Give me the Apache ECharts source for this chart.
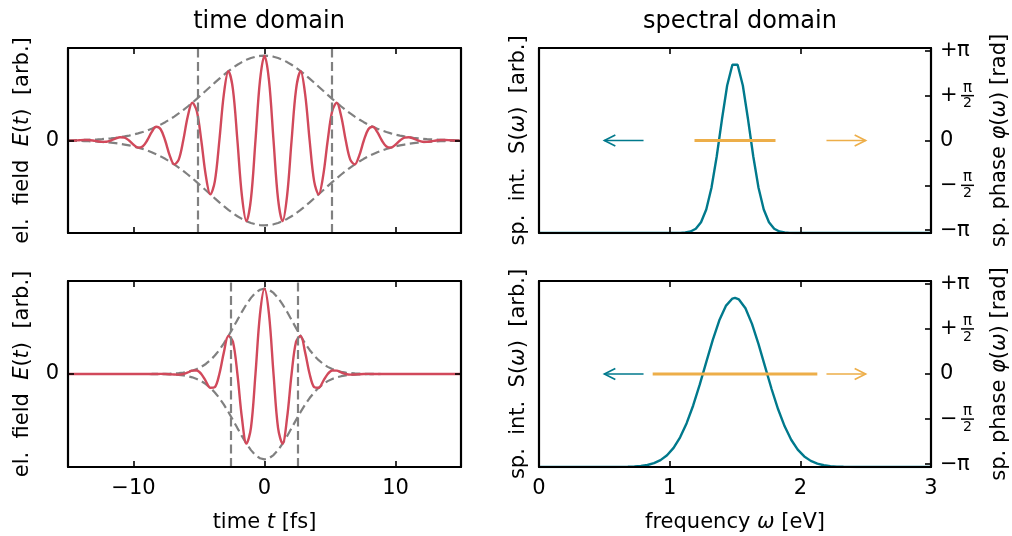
<!DOCTYPE html>
<html>
<head>
<meta charset="utf-8">
<script src="https://cdn.jsdelivr.net/npm/echarts@6/dist/echarts.min.js"></script>
<style>
  html, body { margin: 0; padding: 0; background: #fff; }
  #chart { width: 1012px; height: 536px; }
</style>
</head>
<body>
<div id="chart"></div>
<script>
// ---- time domain samples (fs) ----
const timeFs = [-15, -14.82, -14.475, -14.13, -13.786, -13.441, -13.096, -12.752, -12.407, -12.062, -11.718, -11.373, -11.028, -10.684, -10.339, -9.995, -9.65, -9.305, -8.961, -8.616, -8.271, -7.927, -7.582, -7.237, -6.893, -6.548, -6.204, -5.859, -5.514, -5.17, -4.825, -4.48, -4.136, -3.791, -3.446, -3.102, -2.757, -2.412, -2.068, -1.723, -1.379, -1.034, -0.689, -0.345, 0,
  0.345, 0.689, 1.034, 1.379, 1.723, 2.068, 2.412, 2.757, 3.102, 3.446, 3.791, 4.136, 4.48, 4.825, 5.17, 5.514, 5.859, 6.204, 6.548, 6.893, 7.237, 7.582, 7.927, 8.271, 8.616, 8.961, 9.305, 9.65, 9.995, 10.339, 10.684, 11.028, 11.373, 11.718, 12.062, 12.407, 12.752, 13.096, 13.441, 13.786, 14.13, 14.475, 14.82, 15];

// long pulse: field and its envelope
const fieldLong = [-0.0023, -0.002, 0, 0.0035, 0.0063, 0.0057, 0, -0.0093, -0.0165, -0.0146, 0, 0.0225, 0.0391, 0.0338, 0, -0.0494, -0.0836, -0.0704, 0, 0.0978, 0.1615, 0.1325, 0, -0.1751, -0.2819, -0.2255, 0, 0.2833, 0.4447, 0.3469, 0, -0.4141, -0.634, -0.4821, 0, 0.5472, 0.8166, 0.6055, 0, -0.6533, -0.9506, -0.6872, 0, 0.7049, 1,
  0.7049, 0, -0.6872, -0.9506, -0.6533, 0, 0.6055, 0.8166, 0.5472, 0, -0.4821, -0.634, -0.4141, 0, 0.3469, 0.4447, 0.2833, 0, -0.2255, -0.2819, -0.1751, 0, 0.1325, 0.1615, 0.0978, 0, -0.0704, -0.0836, -0.0494, 0, 0.0338, 0.0391, 0.0225, 0, -0.0146, -0.0165, -0.0093, 0, 0.0057, 0.0063, 0.0035, 0, -0.002, -0.0023];
const envLongUpper = [0.0025, 0.0029, 0.0038, 0.0049, 0.0063, 0.0081, 0.0104, 0.0131, 0.0165, 0.0207, 0.0258, 0.0318, 0.0391, 0.0477, 0.0579, 0.0698, 0.0836, 0.0995, 0.1177, 0.1383, 0.1615, 0.1874, 0.2161, 0.2476, 0.2819, 0.319, 0.3586, 0.4006, 0.4447, 0.4906, 0.5377, 0.5857, 0.634, 0.6818, 0.7287, 0.7738, 0.8166, 0.8563, 0.8923, 0.9239, 0.9506, 0.9719, 0.9874, 0.9968, 1,
  0.9968, 0.9874, 0.9719, 0.9506, 0.9239, 0.8923, 0.8563, 0.8166, 0.7738, 0.7287, 0.6818, 0.634, 0.5857, 0.5377, 0.4906, 0.4447, 0.4006, 0.3586, 0.319, 0.2819, 0.2476, 0.2161, 0.1874, 0.1615, 0.1383, 0.1177, 0.0995, 0.0836, 0.0698, 0.0579, 0.0477, 0.0391, 0.0318, 0.0258, 0.0207, 0.0165, 0.0131, 0.0104, 0.0081, 0.0063, 0.0049, 0.0038, 0.0029, 0.0025];
const envLongLower = [-0.0025, -0.0029, -0.0038, -0.0049, -0.0063, -0.0081, -0.0104, -0.0131, -0.0165, -0.0207, -0.0258, -0.0318, -0.0391, -0.0477, -0.0579, -0.0698, -0.0836, -0.0995, -0.1177, -0.1383, -0.1615, -0.1874, -0.2161, -0.2476, -0.2819, -0.319, -0.3586, -0.4006, -0.4447, -0.4906, -0.5377, -0.5857, -0.634, -0.6818, -0.7287, -0.7738, -0.8166, -0.8563, -0.8923, -0.9239, -0.9506, -0.9719, -0.9874, -0.9968, -1,
  -0.9968, -0.9874, -0.9719, -0.9506, -0.9239, -0.8923, -0.8563, -0.8166, -0.7738, -0.7287, -0.6818, -0.634, -0.5857, -0.5377, -0.4906, -0.4447, -0.4006, -0.3586, -0.319, -0.2819, -0.2476, -0.2161, -0.1874, -0.1615, -0.1383, -0.1177, -0.0995, -0.0836, -0.0698, -0.0579, -0.0477, -0.0391, -0.0318, -0.0258, -0.0207, -0.0165, -0.0131, -0.0104, -0.0081, -0.0063, -0.0049, -0.0038, -0.0029, -0.0025];

// short pulse: field and its envelope
const fieldShort = [0, 0, 0, 0, 0, 0, 0, 0, 0, 0, 0, 0, 0, 0, 0, 0, 0, 0, 0, 0, 0.0007, 0.0009, 0, -0.0027, -0.0063, -0.0073, 0, 0.0182, 0.0391, 0.041, 0, -0.0832, -0.1615, -0.1528, 0, 0.2536, 0.4447, 0.3802, 0, -0.5152, -0.8166, -0.631, 0, 0.6982, 1,
  0.6982, 0, -0.631, -0.8166, -0.5152, 0, 0.3802, 0.4447, 0.2536, 0, -0.1528, -0.1615, -0.0832, 0, 0.041, 0.0391, 0.0182, 0, -0.0073, -0.0063, -0.0027, 0, 0.0009, 0.0007, 0, 0, 0, 0, 0, 0, 0, 0, 0, 0, 0, 0, 0, 0, 0, 0, 0, 0, 0, 0];
const envShortUpper = [0, 0, 0, 0, 0, 0, 0, 0, 0, 0, 0, 0, 0, 0, 0, 0, 0, 0.0001, 0.0002, 0.0004, 0.0007, 0.0012, 0.0022, 0.0038, 0.0063, 0.0104, 0.0165, 0.0258, 0.0391, 0.0579, 0.0836, 0.1177, 0.1615, 0.2161, 0.2819, 0.3586, 0.4447, 0.5377, 0.634, 0.7287, 0.8166, 0.8923, 0.9506, 0.9874, 1,
  0.9874, 0.9506, 0.8923, 0.8166, 0.7287, 0.634, 0.5377, 0.4447, 0.3586, 0.2819, 0.2161, 0.1615, 0.1177, 0.0836, 0.0579, 0.0391, 0.0258, 0.0165, 0.0104, 0.0063, 0.0038, 0.0022, 0.0012, 0.0007, 0.0004, 0.0002, 0.0001, 0, 0, 0, 0, 0, 0, 0, 0, 0, 0, 0, 0, 0, 0, 0, 0, 0];
const envShortLower = [0, 0, 0, 0, 0, 0, 0, 0, 0, 0, 0, 0, 0, 0, 0, 0, 0, -0.0001, -0.0002, -0.0004, -0.0007, -0.0012, -0.0022, -0.0038, -0.0063, -0.0104, -0.0165, -0.0258, -0.0391, -0.0579, -0.0836, -0.1177, -0.1615, -0.2161, -0.2819, -0.3586, -0.4447, -0.5377, -0.634, -0.7287, -0.8166, -0.8923, -0.9506, -0.9874, -1,
  -0.9874, -0.9506, -0.8923, -0.8166, -0.7287, -0.634, -0.5377, -0.4447, -0.3586, -0.2819, -0.2161, -0.1615, -0.1177, -0.0836, -0.0579, -0.0391, -0.0258, -0.0165, -0.0104, -0.0063, -0.0038, -0.0022, -0.0012, -0.0007, -0.0004, -0.0002, -0.0001, 0, 0, 0, 0, 0, 0, 0, 0, 0, 0, 0, 0, 0, 0, 0, 0, 0];

// half-maximum markers of the envelopes (fs)
const halfMaxLong = [-5.1, 5.1];
const halfMaxShort = [-2.55, 2.55];

// ---- spectral domain (eV) ----
const freqNarrow = [0, 1.0, 1.04, 1.08, 1.12, 1.16, 1.2, 1.24, 1.28, 1.32, 1.36, 1.4, 1.44, 1.48, 1.52, 1.56, 1.6, 1.64, 1.68, 1.72, 1.76, 1.8, 1.84, 1.88, 1.92, 1.96, 2.0, 3.0];
const specNarrow = [0, 0, 0.0002, 0.0007, 0.0027, 0.0088, 0.0253, 0.0635, 0.1396, 0.2691, 0.455, 0.6746, 0.877, 1, 1, 0.877, 0.6746, 0.455, 0.2691, 0.1396, 0.0635, 0.0253, 0.0088, 0.0027, 0.0007, 0.0002, 0, 0];
const freqWide = [0, 0.48, 0.53, 0.58, 0.63, 0.68, 0.73, 0.78, 0.83, 0.88, 0.93, 0.98, 1.03, 1.08, 1.13, 1.18, 1.23, 1.28, 1.33, 1.38, 1.43, 1.48, 1.5, 1.53, 1.58, 1.63, 1.68, 1.73, 1.78, 1.83, 1.88, 1.93, 1.98, 2.03, 2.08, 2.13, 2.18, 2.23, 2.28, 2.33, 2.38, 2.43, 2.48, 3];
const specWide = [0, 0, 0.0001, 0.0002, 0.0006, 0.0013, 0.0029, 0.006, 0.0119, 0.0225, 0.0405, 0.0693, 0.113, 0.1753, 0.259, 0.3639, 0.487, 0.6202, 0.7519, 0.8675, 0.9528, 0.9961, 1, 0.9911, 0.9388, 0.8464, 0.7263, 0.5933, 0.4613, 0.3414, 0.2405, 0.1612, 0.1029, 0.0625, 0.0362, 0.0199, 0.0104, 0.0052, 0.0025, 0.0011, 0.0005, 0.0002, 0.0001, 0];

// flat spectral phase over the pulse bandwidth (rad)
const phaseFreqNarrow = [1.19, 1.81];
const phaseNarrow = [0, 0];
const phaseFreqWide = [0.87, 2.13];
const phaseWide = [0, 0];

// axis-pointer arrows: intensity to the left, phase to the right
const arrowTails = [0.8, 2.2];
const arrowTips = [0.5, 2.5];
const arrowLevel = [0, 0];

// ticks
const timeTicks = [-10, 0, 10];
const fieldTicks = [0];
const freqTicks = [0, 1, 2, 3];
const phaseTicks = [-Math.PI, -Math.PI / 2, 0, Math.PI / 2, Math.PI];
const phaseTickLabels = ['−π', '−π/2', '0', '+π/2', '+π'];

// ---- styling ----
const FONT = 'DejaVu Sans';
const FS = 21;
const RED = '#d1495b', TEAL = '#00798c', ORANGE = '#edae49', GRAY = '#808080';
const FRAME = { color: '#000', width: 2.2 };
const TICK = { show: true, inside: true, length: 6, lineStyle: { color: '#000', width: 1.6 } };

const nameStyle = {
  fontFamily: FONT, fontSize: FS, color: '#000',
  rich: {
    t: { fontFamily: FONT, fontSize: FS, color: '#000' },
    i: { fontFamily: FONT, fontSize: FS, fontStyle: 'italic', color: '#000' }
  }
};
const labelStyle = { fontFamily: FONT, fontSize: FS, color: '#000' };

const pairs = (xs, ys) => xs.map((x, i) => [x, ys[i]]);
const minusSign = v => String(v).replace('-', '\u2212');

function phaseRich(lbl) {
  if (lbl === '0') return '{z|0}';
  const sign = lbl[0];
  if (lbl.endsWith('/2')) {
    return '{pad| }{num|π}\n{sg2|' + sign + '}{bar| }\n{pad| }{den|2}';
  }
  return '{sg|' + sign + '}{pi|π}';
}

const grids = [
  { left: 68, top: 48, width: 393, height: 185 },
  { left: 68, top: 281, width: 393, height: 186 },
  { left: 539, top: 48, width: 392, height: 185 },
  { left: 539, top: 281, width: 392, height: 186 }
];

function xAxes(gi, min, max, ticks, showLabels, name) {
  const common = {
    gridIndex: gi, type: 'value', min, max, z: 10,
    axisLine: { show: true, onZero: false, lineStyle: FRAME },
    splitLine: { show: false },
    axisTick: Object.assign({ customValues: ticks }, TICK)
  };
  const bottom = Object.assign({}, common, {
    position: 'bottom',
    axisLabel: showLabels
      ? Object.assign({ show: true, customValues: ticks, margin: 11, formatter: minusSign }, labelStyle)
      : { show: false },
    name: name || '', nameLocation: 'middle', nameGap: 45, nameTextStyle: nameStyle
  });
  const top = Object.assign({}, common, { position: 'top', axisLabel: { show: false } });
  return [bottom, top];
}

const xAxis = [].concat(
  xAxes(0, -15, 15, timeTicks, false),
  xAxes(1, -15, 15, timeTicks, true, '{t|time }{i|t}{t| [fs]}'),
  xAxes(2, 0, 3, freqTicks, false),
  xAxes(3, 0, 3, freqTicks, true, '{t|frequency }{i|ω}{t| [eV]}')
);

function timeYAxes(gi) {
  const common = {
    gridIndex: gi, type: 'value', min: -1.09, max: 1.09, z: 10,
    axisLine: { show: true, onZero: false, lineStyle: FRAME },
    splitLine: { show: false },
    axisTick: Object.assign({ customValues: fieldTicks }, TICK)
  };
  return [
    Object.assign({}, common, {
      position: 'left',
      axisLabel: Object.assign({ show: true, customValues: fieldTicks, margin: 9 }, labelStyle),
      name: '{t|el.  field  }{i|E}{t|(}{i|t}{t|)  [arb.]}',
      nameLocation: 'middle', nameRotate: 90, nameGap: 35, nameTextStyle: nameStyle
    }),
    Object.assign({}, common, { position: 'right', axisLabel: { show: false } })
  ];
}

function specYAxes(gi) {
  return [
    {
      gridIndex: gi, type: 'value', min: 0, max: 1.1, z: 10, position: 'left',
      axisLine: { show: true, onZero: false, lineStyle: FRAME },
      splitLine: { show: false }, axisTick: { show: false }, axisLabel: { show: false },
      name: '{t|sp.  int.  S(}{i|ω}{t|)  [arb.]}',
      nameLocation: 'middle', nameRotate: 90, nameGap: 10, nameTextStyle: nameStyle
    },
    {
      gridIndex: gi, type: 'value', min: -3.24, max: 3.24, z: 10, position: 'right',
      axisLine: { show: true, onZero: false, lineStyle: FRAME },
      splitLine: { show: false },
      axisTick: Object.assign({ customValues: phaseTicks }, TICK),
      axisLabel: {
        show: true, customValues: phaseTicks, margin: 9,
        fontFamily: FONT, fontSize: FS, color: '#000',
        formatter: v => {
          const i = phaseTicks.findIndex(p => Math.abs(p - v) < 1e-6);
          return phaseRich(phaseTickLabels[i < 0 ? 2 : i]);
        },
        rich: {
          z: { fontFamily: FONT, fontSize: FS, color: '#000' },
          sg: { fontFamily: FONT, fontSize: FS, color: '#000', width: 17 },
          pi: { fontFamily: FONT, fontSize: FS, color: '#000' },
          pad: { fontFamily: FONT, fontSize: 10, width: 21, lineHeight: 13 },
          num: { fontFamily: FONT, fontSize: 15, color: '#000', width: 13, align: 'center', lineHeight: 13 },
          sg2: { fontFamily: FONT, fontSize: FS, color: '#000', width: 21, lineHeight: 3 },
          bar: { fontSize: 2, width: 13, height: 1.5, lineHeight: 3, backgroundColor: '#000' },
          den: { fontFamily: FONT, fontSize: 14, color: '#000', width: 13, align: 'center', lineHeight: 13 }
        }
      },
      name: '{t|sp. phase }{i|φ}{t|(}{i|ω}{t|) [rad]}',
      nameLocation: 'middle', nameRotate: 90, nameGap: 58, nameTextStyle: nameStyle
    }
  ];
}

const yAxis = [].concat(timeYAxes(0), timeYAxes(1), specYAxes(2), specYAxes(3));

function timeSeries(gi, field, upper, lower, halfMax) {
  const xi = gi * 2, yi = gi * 2;
  const dashed = { color: GRAY, width: 2.2, type: [9, 4.5] };
  return [
    { type: 'line', xAxisIndex: xi, yAxisIndex: yi, data: pairs(timeFs, upper), showSymbol: false, lineStyle: dashed, z: 2,
      markLine: { silent: true, symbol: 'none', label: { show: false }, lineStyle: dashed, data: halfMax.map(v => ({ xAxis: v })) } },
    { type: 'line', xAxisIndex: xi, yAxisIndex: yi, data: pairs(timeFs, lower), showSymbol: false, lineStyle: dashed, z: 2 },
    { type: 'line', xAxisIndex: xi, yAxisIndex: yi, data: pairs(timeFs, field), showSymbol: false, smooth: 0.34,
      lineStyle: { color: RED, width: 2.4 }, z: 3 }
  ];
}

function arrowSeries(gi) {
  return {
    type: 'custom', xAxisIndex: gi * 2, yAxisIndex: gi * 2 + 1, z: 4, silent: true,
    data: arrowTails.map((x, i) => ({ value: [x, arrowLevel[i], arrowTips[i]], itemStyle: { color: i === 0 ? TEAL : ORANGE } })),
    encode: { x: [0, 2], y: 1 },
    renderItem: (params, api) => {
      const p0 = api.coord([api.value(0), api.value(1)]);
      const p1 = api.coord([api.value(2), api.value(1)]);
      const dir = p1[0] > p0[0] ? 1 : -1;
      const hx = p1[0] - dir * 11;
      const color = api.visual('color');
      return {
        type: 'group',
        children: [
          { type: 'line', shape: { x1: p0[0], y1: p0[1], x2: p1[0], y2: p1[1] }, style: { stroke: color, lineWidth: 1.6 } },
          { type: 'polyline', shape: { points: [[hx, p1[1] - 5.5], [p1[0], p1[1]], [hx, p1[1] + 5.5]] }, style: { stroke: color, lineWidth: 1.6, fill: null } }
        ]
      };
    }
  };
}

function specSeries(gi, fx, fy, px, py) {
  return [
    { type: 'line', xAxisIndex: gi * 2, yAxisIndex: gi * 2, data: pairs(fx, fy), showSymbol: false,
      lineStyle: { color: TEAL, width: 2.4 }, z: 3 },
    { type: 'line', xAxisIndex: gi * 2, yAxisIndex: gi * 2 + 1, data: pairs(px, py), showSymbol: false,
      lineStyle: { color: ORANGE, width: 2.8 }, z: 3 },
    arrowSeries(gi)
  ];
}

const series = [].concat(
  timeSeries(0, fieldLong, envLongUpper, envLongLower, halfMaxLong),
  timeSeries(1, fieldShort, envShortUpper, envShortLower, halfMaxShort),
  specSeries(2, freqNarrow, specNarrow, phaseFreqNarrow, phaseNarrow),
  specSeries(3, freqWide, specWide, phaseFreqWide, phaseWide)
);

const chart = echarts.init(document.getElementById('chart'), null, { renderer: 'canvas' });
chart.setOption({
  animation: false,
  backgroundColor: '#fff',
  textStyle: { fontFamily: FONT },
  title: [
    { text: 'time domain', left: 264, top: 5, textAlign: 'center',
      textStyle: { fontFamily: FONT, fontSize: 24, fontWeight: 'normal', color: '#000' } },
    { text: 'spectral domain', left: 735, top: 5, textAlign: 'center',
      textStyle: { fontFamily: FONT, fontSize: 24, fontWeight: 'normal', color: '#000' } }
  ],
  grid: grids,
  xAxis,
  yAxis,
  series
});
</script>
</body>
</html>
